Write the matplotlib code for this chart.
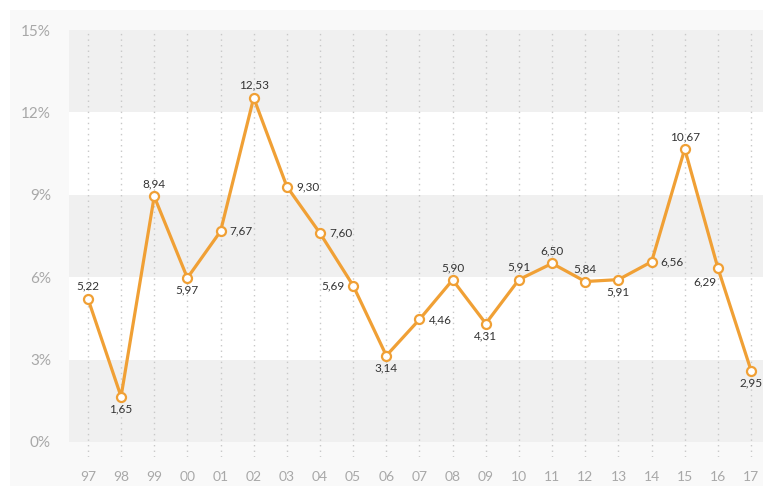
import matplotlib
matplotlib.use("Agg")
import matplotlib.pyplot as plt
from matplotlib.patches import Rectangle

years = ["97", "98", "99", "00", "01", "02", "03", "04", "05", "06", "07",
         "08", "09", "10", "11", "12", "13", "14", "15", "16", "17"]
values = [5.22, 1.65, 8.94, 5.97, 7.67, 12.53, 9.30, 7.60, 5.69, 3.14, 4.46,
          5.90, 4.31, 5.91, 6.50, 5.84, 5.91, 6.56, 10.67, 6.33, 2.60]
labels = ["5,22", "1,65", "8,94", "5,97", "7,67", "12,53", "9,30", "7,60", "5,69",
          "3,14", "4,46", "5,90", "4,31", "5,91", "6,50", "5,84", "5,91", "6,56",
          "10,67", "6,29", "2,95"]
label_pos = ["above", "below", "above", "below", "right", "above", "right", "right",
             "left", "below", "right", "above", "below", "above", "above", "above",
             "below", "right", "above", "belowleft", "below"]
yticks = [0, 3, 6, 9, 12, 15]
ytick_labels = ["0%", "3%", "6%", "9%", "12%", "15%"]

plt.rcParams['font.family'] = ['Lato', 'DejaVu Sans']

W, H = 763, 486
fig = plt.figure(figsize=(W / 100, H / 100), dpi=100)
fig.patch.set_facecolor("white")
bg = Rectangle((10 / W, 0), 1 - 10 / W, (H - 10) / H,
               transform=fig.transFigure, facecolor="#f9f9f9",
               edgecolor="none", zorder=-10)
fig.patches.append(bg)

left, right = 69 / W, 1.0
bottom, top = (H - 457) / H, (H - 30) / H
ax = fig.add_axes([left, bottom, right - left, top - bottom])
ax.set_zorder(5)
ax.patch.set_visible(False)

x = list(range(len(years)))
ax.set_xlim(-0.57, 20.36)
ax.set_ylim(-0.55, 15)

band_colors = ["#f0f0f0", "#ffffff", "#f0f0f0", "#ffffff", "#f0f0f0"]
for i, c in enumerate(band_colors):
    ax.axhspan(yticks[i], yticks[i + 1], color=c, zorder=0, lw=0)

for xi in x:
    ax.axvline(xi, color="#c8c8c8", lw=1.0, ls=(0, (1, 3)), zorder=1)

color = "#f0a035"
ax.plot(x, values, color=color, lw=2.3, zorder=3,
        marker="o", markersize=6.5, markerfacecolor="white",
        markeredgecolor=color, markeredgewidth=1.6)

offsets = {
    "above": (0, 5, "center", "bottom"),
    "below": (0, -5, "center", "top"),
    "right": (6.5, 0, "left", "center"),
    "left": (-6.5, 0, "right", "center"),
    "belowleft": (-1, -6, "right", "top"),
}
for xi, v, lab, pos in zip(x, values, labels, label_pos):
    dx, dy, ha, va = offsets[pos]
    ax.annotate(lab, (xi, v), xytext=(dx, dy), textcoords="offset points",
                ha=ha, va=va, fontsize=8.5, color="#333333", zorder=4)

ax.set_xticks(x)
ax.set_xticklabels(years)
ax.set_yticks(yticks)
ax.set_yticklabels(ytick_labels)
ax.tick_params(axis="both", length=0, colors="#a8a8a8")
ax.tick_params(axis="x", pad=10, labelsize=10)
ax.tick_params(axis="y", pad=13, labelsize=11)
for s in ax.spines.values():
    s.set_visible(False)

fig.savefig("out.png", dpi=100, facecolor=fig.get_facecolor())
